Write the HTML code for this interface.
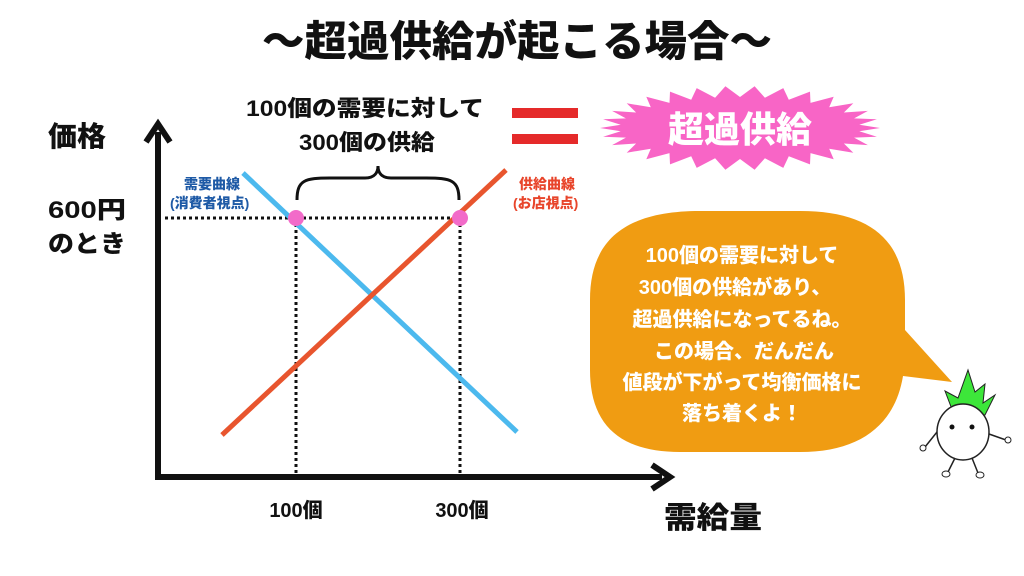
<!DOCTYPE html>
<html><head><meta charset="utf-8"><style>
html,body{margin:0;padding:0;background:#fff;}
svg{display:block;}
text{font-family:"Liberation Sans","Noto Sans CJK JP",sans-serif;font-weight:900;}
</style></head><body>
<svg id="s" width="1024" height="576" viewBox="0 0 1024 576" xmlns="http://www.w3.org/2000/svg">
<rect width="1024" height="576" fill="#fff"/>
<text x="517" y="56" font-size="42" text-anchor="middle" textLength="510" lengthAdjust="spacingAndGlyphs" fill="#111">〜超過供給が起こる場合〜</text>
<text x="365" y="116" font-size="22" text-anchor="middle" textLength="238" lengthAdjust="spacingAndGlyphs" fill="#111">100個の需要に対して</text>
<text x="367" y="150" font-size="22" text-anchor="middle" textLength="136" lengthAdjust="spacingAndGlyphs" fill="#111">300個の供給</text>
<rect x="512" y="108" width="66" height="10" fill="#e52a2a"/>
<rect x="512" y="134" width="66" height="10" fill="#e52a2a"/>
<polygon id="star" fill="#f865c6"/>
<text x="740" y="142" font-size="36" text-anchor="middle" fill="#fff">超過供給</text>
<text x="48" y="146" font-size="28" textLength="58" lengthAdjust="spacingAndGlyphs" fill="#111">価格</text>
<text x="48" y="218" font-size="24" textLength="78" lengthAdjust="spacingAndGlyphs" fill="#111">600円</text>
<text x="48" y="252" font-size="24" textLength="78" lengthAdjust="spacingAndGlyphs" fill="#111">のとき</text>
<text x="184" y="189" font-size="14" fill="#1e5aa6">需要曲線</text>
<text x="170" y="208" font-size="14" fill="#1e5aa6">(消費者視点)</text>
<text x="519" y="189" font-size="14" fill="#e8452b">供給曲線</text>
<text x="513" y="208" font-size="14" fill="#e8452b">(お店視点)</text>
<line x1="158" y1="478" x2="158" y2="132" stroke="#111" stroke-width="6"/>
<polyline points="146,142 158,124 170,142" fill="none" stroke="#111" stroke-width="6" stroke-linejoin="miter"/>
<line x1="155" y1="477" x2="662" y2="477" stroke="#111" stroke-width="6"/>
<polyline points="652,465 670,477 652,489" fill="none" stroke="#111" stroke-width="6"/>
<line x1="165" y1="218" x2="460" y2="218" stroke="#111" stroke-width="3" stroke-dasharray="3 3"/>
<line x1="296" y1="218" x2="296" y2="474" stroke="#111" stroke-width="3" stroke-dasharray="3 3"/>
<line x1="460" y1="218" x2="460" y2="474" stroke="#111" stroke-width="3" stroke-dasharray="3 3"/>
<line x1="243" y1="173" x2="517" y2="432" stroke="#4cb9ee" stroke-width="5"/>
<line x1="222" y1="435" x2="506" y2="170" stroke="#e8552e" stroke-width="5"/>
<circle cx="296" cy="218" r="8" fill="#f26bc9"/>
<circle cx="460" cy="218" r="8" fill="#f26bc9"/>
<path d="M297,200 C297,180 305,178 330,178 L365,178 C375,178 378,172 378,166 C378,172 381,178 391,178 L426,178 C451,178 459,180 459,200" fill="none" stroke="#111" stroke-width="3"/>
<text x="296" y="517" font-size="20" text-anchor="middle" fill="#111">100個</text>
<text x="462" y="517" font-size="20" text-anchor="middle" fill="#111">300個</text>
<text x="713" y="528" font-size="30" text-anchor="middle" textLength="98" lengthAdjust="spacingAndGlyphs" fill="#111">需給量</text>
<path d="M700,211 L800,211 C870,211 905,240 905,300 L905,330 L952,382 L903,376 C895,425 860,452 800,452 L680,452 C620,452 590,425 590,370 L590,300 C590,240 625,211 700,211 Z" fill="#f09c12"/>
<g font-size="20" fill="#fff" text-anchor="middle">
<text x="742" y="262">100個の需要に対して</text>
<text x="735" y="294">300個の供給があり、</text>
<text x="742" y="326">超過供給になってるね。</text>
<text x="744" y="358">この場合、だんだん</text>
<text x="742" y="389">値段が下がって均衡価格に</text>
<text x="742" y="420">落ち着くよ！</text>
</g>
<path d="M953,412 L945,391 L958,398 L968,370 L975,392 L985,384 L983,403 L995,395 L985,415 Z" fill="#3de63a" stroke="#222" stroke-width="1"/>
<ellipse cx="963" cy="432" rx="26" ry="28" fill="#fff" stroke="#222" stroke-width="1.5"/>
<circle cx="952" cy="427" r="2.5" fill="#111"/>
<circle cx="972" cy="427" r="2.5" fill="#111"/>
<path d="M937,432 L925,447 M989,434 L1006,440 M955,458 L948,472 M972,458 L978,473" stroke="#222" stroke-width="1.5" fill="none"/>
<circle cx="923" cy="448" r="3" fill="#fff" stroke="#222"/>
<circle cx="1008" cy="440" r="3" fill="#fff" stroke="#222"/>
<ellipse cx="946" cy="474" rx="4" ry="3" fill="#fff" stroke="#222"/>
<ellipse cx="980" cy="475" rx="4" ry="3" fill="#fff" stroke="#222"/>
</svg>
<script>
var p=[],n=30,cx=740,cy=128;
for(var i=0;i<n*2;i++){var a=Math.PI*i/n,o=i%2==0;
var rx=o?140:120,ry=o?42:31;
var x=cx+rx*Math.cos(a),y=cy+ry*Math.sin(a);
p.push(x.toFixed(1)+","+y.toFixed(1));}
document.getElementById("star").setAttribute("points",p.join(" "));
</script>
</body></html>
